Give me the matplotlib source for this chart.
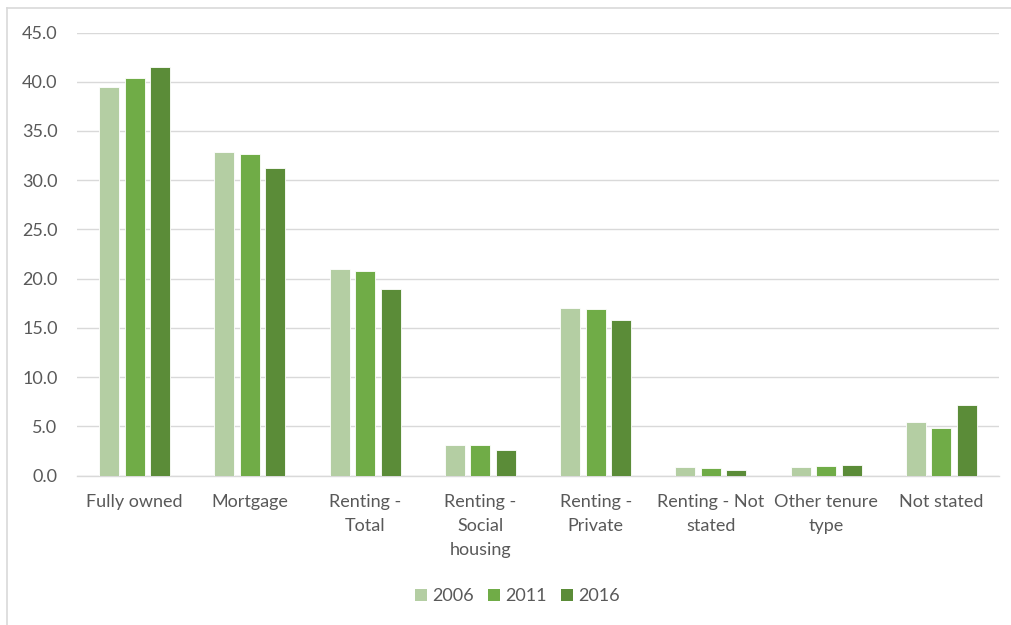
import matplotlib
matplotlib.use("Agg")
import matplotlib.pyplot as plt
from matplotlib.lines import Line2D
from matplotlib.patches import Patch
import numpy as np

categories = ["Fully owned", "Mortgage", "Renting -\nTotal", "Renting -\nSocial\nhousing",
              "Renting -\nPrivate", "Renting - Not\nstated", "Other tenure\ntype", "Not stated"]
years = ["2006", "2011", "2016"]
v2006 = [39.5, 32.9, 21.0, 3.1, 17.0, 0.9, 0.9, 5.4]
v2011 = [40.4, 32.7, 20.8, 3.1, 16.9, 0.75, 1.0, 4.8]
v2016 = [41.5, 31.2, 18.9, 2.6, 15.8, 0.6, 1.1, 7.2]
yticks = [0, 5, 10, 15, 20, 25, 30, 35, 40, 45]

colors = ["#b4cea3", "#70ac47", "#5b8c38"]
TEXT = "#595959"
GRID = "#d9d9d9"

plt.rcParams["font.family"] = ["Lato", "DejaVu Sans"]

fig = plt.figure(figsize=(10.11, 6.25), dpi=100)
ax = fig.add_axes([0.0762, 0.2392, 0.912, 0.7088])

x = np.arange(len(categories))
step = 0.221
width = 0.174
for i, (vals, col, lab) in enumerate(zip([v2006, v2011, v2016], colors, years)):
    ax.bar(x + (i - 1) * step, vals, width=width, color=col, label=lab,
           edgecolor="white", linewidth=0.6, zorder=3)

ax.set_xlim(-0.5, len(categories) - 0.5)
ax.set_ylim(0, 45)
ax.set_yticks(yticks)
ax.set_yticklabels([f"{t:.1f}" for t in yticks])
ax.set_xticks(x)
ax.set_xticklabels(categories, linespacing=1.65)
ax.tick_params(axis="y", length=0, pad=14, labelsize=13, labelcolor=TEXT)
ax.tick_params(axis="x", length=0, pad=13, labelsize=13, labelcolor=TEXT)

ax.grid(axis="y", color=GRID, linewidth=1.0, zorder=0)
ax.set_axisbelow(True)
for s in ["top", "right", "left"]:
    ax.spines[s].set_visible(False)
ax.spines["bottom"].set_color(GRID)
ax.spines["bottom"].set_linewidth(1.0)

handles = [Patch(facecolor=c, edgecolor="none", label=l) for c, l in zip(colors, years)]
fig.legend(handles=handles, loc="center", bbox_to_anchor=(0.512, 0.046), ncol=3,
           frameon=False, fontsize=13, labelcolor=TEXT, handlelength=0.65,
           handleheight=0.65, handletextpad=0.3, columnspacing=0.8)

# outer frame (only top and left edges visible in the crop)
fig.add_artist(Line2D([0.0069, 1.0], [0.9872, 0.9872], transform=fig.transFigure,
                      color="#d9d9d9", lw=1.2))
fig.add_artist(Line2D([0.0069, 0.0069], [0.0, 0.9872], transform=fig.transFigure,
                      color="#d9d9d9", lw=1.2))

fig.savefig("out.png", dpi=100, facecolor="white")
